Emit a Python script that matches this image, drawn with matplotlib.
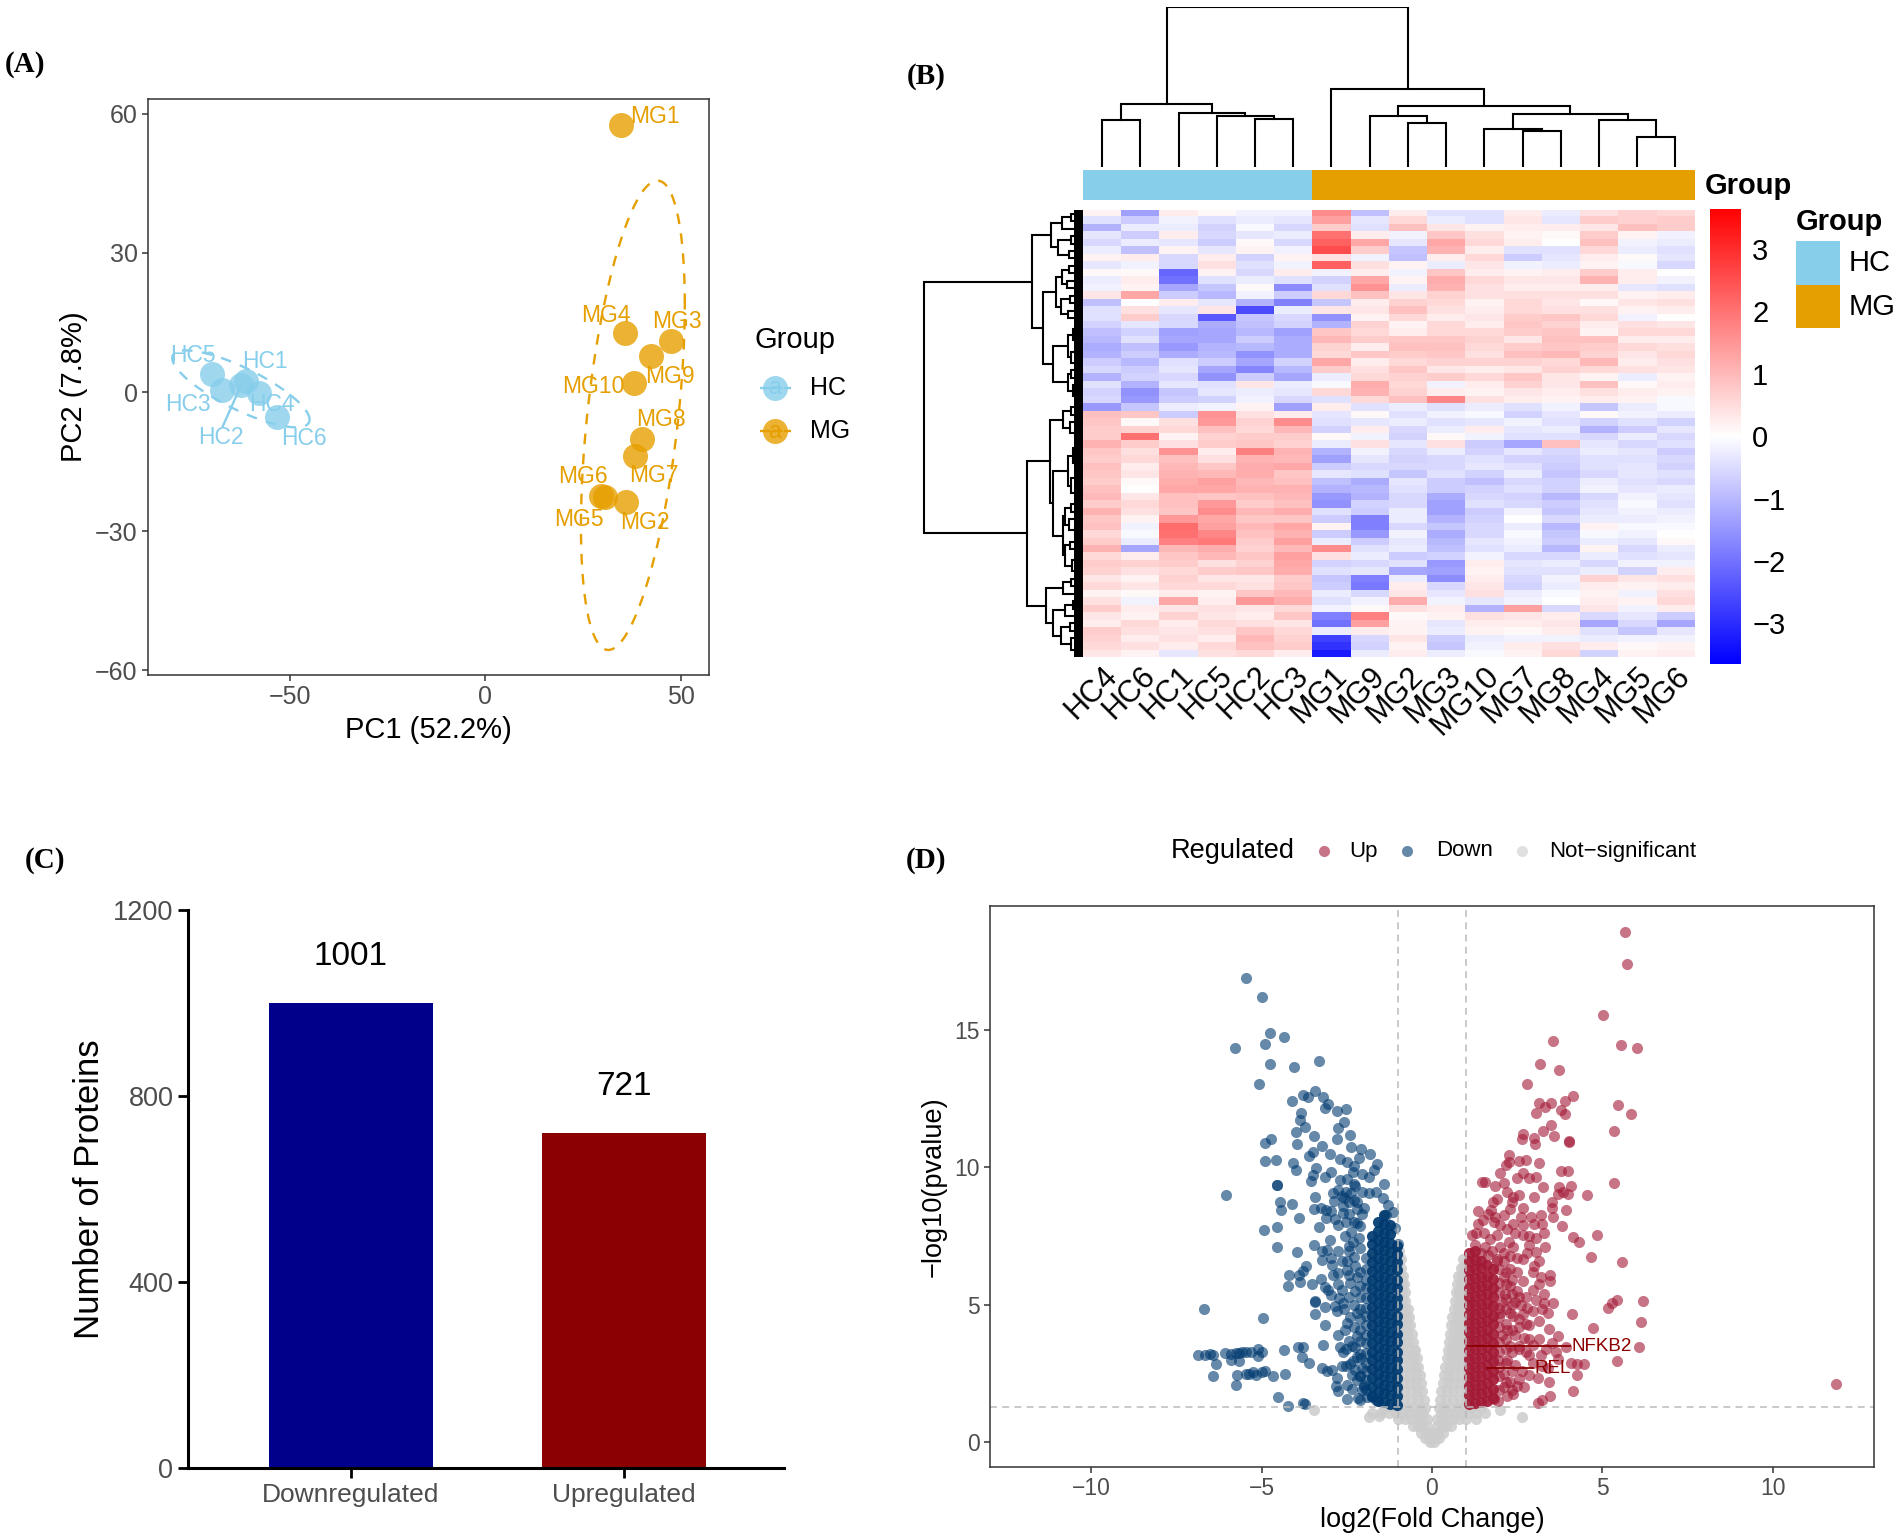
#!/usr/bin/env python3
"""Four panel proteomics figure: PCA, clustered heatmap, DEP counts, volcano."""
import numpy as np
import matplotlib
matplotlib.use("Agg")
import matplotlib.pyplot as plt
from matplotlib.colors import LinearSegmentedColormap
from matplotlib.patches import Rectangle

plt.rcParams["font.family"] = ["Liberation Sans", "DejaVu Sans"]

W, H = 1902, 1539
HC_COL = "#87CEEB"
MG_COL = "#E69F00"
UP_COL = "#A31A36"
DOWN_COL = "#003A70"
TICK_COL = "#4D4D4D"
FRAME_COL = "#333333"

# ---- panel A: PCA scores
hc_names = ["HC1", "HC2", "HC3", "HC4", "HC5", "HC6"]
hc_pc1 = [-61.4, -62.5, -67.5, -57.9, -70.1, -53.4]
hc_pc2 = [2.4, 1.6, 0.5, -0.2, 3.8, -5.4]
hc_label_x = [-56.5, -67.8, -76.1, -54.7, -74.9, -46.4]
hc_label_y = [6.7, -9.8, -2.6, -2.7, 7.8, -9.9]
hc2_link_end = (-67.2, -7.3)
mg_names = ["MG1", "MG2", "MG3", "MG4", "MG5", "MG6", "MG7", "MG8", "MG9", "MG10"]
mg_pc1 = [34.8, 36.1, 47.6, 35.9, 30.7, 29.7, 38.4, 40.1, 42.4, 38.2]
mg_pc2 = [57.7, -23.8, 11.0, 12.7, -22.6, -22.3, -13.7, -10.1, 7.8, 1.9]
mg_label_x = [43.5, 40.8, 49.1, 31.0, 24.1, 25.0, 43.2, 45.0, 47.3, 27.6]
mg_label_y = [59.4, -28.1, 15.2, 16.6, -27.4, -18.3, -18.0, -6.0, 3.4, 1.3]
# ellipse summary: centre x, centre y, half range x, half range y, correlation
hc_ellipse = (-62.6, 0.7, 17.6, 8.3, -0.8)
mg_ellipse = (37.8, -5.0, 13.3, 50.6, 0.474)

# ---- panel B: heatmap, row values in tenths of a z-score
col_names = ["HC4", "HC6", "HC1", "HC5", "HC2", "HC3", "MG1", "MG9",
             "MG2", "MG3", "MG10", "MG7", "MG8", "MG4", "MG5", "MG6"]
heat_tenths = [
    [2, -15, 3, 1, -2, -2, 18, -10, 3, -5, -5, 3, -3, 5, 7, 6],
    [-5, -8, -2, -5, -3, -4, 15, -4, 6, -3, -5, 4, -4, 8, 7, 8],
    [-12, -3, -3, -7, -1, -6, 8, -5, 10, 4, 2, 3, 3, 4, 10, 8],
    [-4, -8, 3, -6, -4, -3, 22, 3, -2, 9, 5, 2, 1, 8, 2, -2],
    [-6, -3, -4, -8, 1, -6, 25, 14, -4, 14, 6, 3, 0, 10, -2, -3],
    [-3, -10, 2, -4, 2, -2, 28, 8, -9, 12, 3, -5, -5, 6, -3, -5],
    [2, 3, -6, 3, -7, 2, 5, -2, -10, 3, 6, -8, -4, 3, 1, -4],
    [-4, -2, -6, 5, -5, -2, 25, 5, 2, -3, 4, -2, -3, 2, -1, -6],
    [1, 1, -24, 2, -6, 3, -2, 3, -2, 9, 3, 2, 3, 8, 3, 0],
    [-3, 3, -22, -5, -3, -5, -7, 14, 2, 13, 6, 4, 4, 12, 3, -2],
    [-2, 2, -14, -9, 1, -18, -5, 17, -3, 12, 5, 3, 3, 3, -4, -5],
    [4, 14, -8, -11, -2, -8, 6, 10, 4, 7, 5, 5, 5, 5, 2, 3],
    [-10, 0, 3, -4, -12, -20, -9, 3, 7, 6, 2, 6, 4, 1, 4, 5],
    [-5, 5, -4, 4, -28, -3, 4, 4, 10, 5, 3, 6, 5, 5, 2, 3],
    [-5, 8, -6, -26, -9, -6, -17, 2, 6, 3, 4, 8, 9, 6, -2, 0],
    [-7, -4, -6, -13, -10, -7, -12, 7, 2, 6, 3, 9, 7, 3, 5, 4],
    [-10, -7, -15, -14, -11, -15, 9, 6, 3, 6, 6, 8, 9, 2, 6, 6],
    [-11, -5, -14, -14, -8, -13, 11, 8, 9, 9, 7, 4, 10, 10, 3, 3],
    [-13, -10, -16, -12, -11, -13, 7, 3, 10, 10, 6, 8, 9, 8, 6, 5],
    [-12, -8, -13, -11, -17, -13, 6, 9, 8, 9, 5, 10, 11, 7, 4, 6],
    [-8, -11, -5, -8, -14, -7, 14, 3, 6, 7, 7, 7, 6, 11, 3, 5],
    [-6, -8, -4, -14, -19, -11, 8, 5, 9, 4, 3, 4, 7, 6, 5, 4],
    [-12, -7, -6, -17, -8, -14, -3, 6, 7, 8, 6, 9, 4, 2, -3, 2],
    [-5, -12, -4, -5, 4, -3, -1, 13, 6, -2, 3, 7, 4, 10, 1, 3],
    [-7, -17, -9, -4, -3, -4, 6, 12, 7, 3, 2, 4, 3, 5, 3, 2],
    [-6, -16, -8, -7, -2, -6, -5, 6, 10, 19, 5, 3, 2, 3, 2, -1],
    [-16, -9, -3, -2, 2, -15, 3, -5, -3, -5, -3, -5, -2, -9, -3, -1],
    [10, 9, -8, 17, 5, 3, -4, 1, -5, -2, -1, -7, -4, 1, -2, -3],
    [9, 1, 5, 16, 7, 18, -5, -4, -3, -5, -4, -2, -5, -7, -5, -7],
    [8, 7, 6, 10, 6, 11, -7, 3, -6, -3, 3, -4, -3, -12, -8, -4],
    [8, 22, 2, 7, 8, 8, 1, -2, -7, 1, -2, -5, -5, -6, -3, -6],
    [12, 8, 5, 8, 9, 7, -3, 5, -4, 5, -8, -14, 10, -4, -6, -5],
    [9, 5, 17, 3, 20, 12, -12, -2, -6, -3, -7, -4, -6, -3, -4, -8],
    [8, 6, 10, 5, 12, 11, -15, -4, -7, -6, -5, -7, -7, -5, -5, -6],
    [10, 3, 11, 9, 13, 14, -8, -6, -6, -6, -4, -5, -8, -5, -4, -7],
    [9, 4, 12, 11, 13, 9, -4, -5, -9, -5, -7, -3, -9, -6, -4, -5],
    [8, 1, 13, 15, 11, 10, -10, -13, -4, -8, -10, -6, -7, -3, -5, -6],
    [10, 0, 14, 14, 12, 12, -12, -11, -5, -8, -7, -5, -7, -2, -4, -3],
    [11, 4, 10, 9, 10, 11, -16, -12, -6, -13, -6, -7, -11, -6, -2, -4],
    [8, 6, 10, 16, 8, 10, -17, -7, -6, -15, -5, -6, -8, -5, -1, -5],
    [12, 5, 9, 18, 11, 13, -5, -8, -3, -15, -8, -2, -9, -4, -2, -3],
    [9, 2, 16, 14, 9, 9, -8, -20, -3, -12, -7, 0, -6, -3, -3, -2],
    [10, -2, 23, 15, 11, 14, 2, -20, -6, -9, -6, -3, -11, 2, -1, -1],
    [6, -1, 22, 19, 10, 12, -8, -16, -2, -13, -6, -1, -9, -1, -2, 0],
    [8, -3, 20, 21, 8, 15, -3, -8, -4, -11, -4, -2, -8, -3, -4, 1],
    [12, -14, 11, 13, 7, 11, 18, -5, -3, -10, -5, -3, -11, 2, -6, -3],
    [6, 3, 9, 11, 9, 15, 5, -3, -8, -7, -2, -6, -6, -3, -5, -4],
    [8, 7, 8, 5, 7, 14, -7, -6, -5, -16, 3, -4, -3, -6, -2, -2],
    [7, 5, 6, 8, 9, 13, -5, -4, -14, -15, 2, -5, -5, -3, -7, 3],
    [4, 2, 7, 4, 4, 8, -9, -20, -3, -18, 3, -6, -2, 7, 4, 5],
    [6, 4, 6, 6, 5, 9, -8, -21, 3, -6, 4, -7, -3, 3, 2, 3],
    [2, 1, 3, 2, 9, 11, -3, -6, 4, -4, 5, -3, -1, 2, -2, 5],
    [5, -2, 14, 3, 16, 13, -5, -2, 13, -2, -4, -2, 0, 3, 2, 6],
    [8, 3, 4, 5, 4, 6, -2, 1, 5, 3, -12, 15, -6, 4, -2, 3],
    [4, 2, 7, 4, 3, 9, -20, 20, 1, 2, 5, 4, 3, -6, -4, -8],
    [3, 6, 3, 6, 5, 4, -22, 15, 2, -4, 3, 3, 4, -14, -6, -14],
    [8, 5, 4, 5, 9, 6, -3, 3, 2, -3, 2, 1, 3, -5, -9, -4],
    [7, 3, 5, 3, 11, 7, -30, -6, 4, -8, -3, -2, -2, -3, -2, -2],
    [6, 5, 3, 6, 10, 8, -32, -7, 2, -9, -2, 3, 5, 3, 1, 2],
    [4, 2, -4, 5, 6, 3, -36, -3, 3, -3, -1, 2, 6, -7, 2, 3],
]
col_tree = (160,
            (63.5, (47, 0, 1),
             (54.5, 2, (51.5, 3, (48, 4, 5)))),
            (78, 6,
             (61.5, (51, 7, (44, 8, 9)),
              (53, (38.5, 10, (36, 11, 12)),
               (47, 13, (30.5, 14, 15))))))
row_tree = (159,
            (51,
             (32,
              (21, (12, 0, 1), 2),
              (25, (12, 3, 4), (14, 5, 6))),
             (40,
              (27,
               (21, (14, 7, 8), (16, 9, 10)),
               (22, (13, 11, 12), (15, 13, 14))),
               (30,
                (15, (10, (7, 15, 16), 17), (12, (8, 18, 19), 20)),
                (15, (12, 21, 22), (10, 23, (7, 24, 25)))))),
            (56,
             (33,
              (20, (12, 26, 27), (13, 28, (8, 29, 30))),
              (30,
               (15, (10, (6, 31, 32), (7, 33, 34)), (12, (7, 35, 36), (6, 37, 38))),
               (20,
                (18, (12, 39, 40), (14, 41, (8, 42, 43))),
                (18, (13, 44, 45), (11, (8, 46, 47), 48))))),
             (37,
              (20, (12, 49, 50), 51),
              (30,
               (18, (10, 52, 53), 54),
               (22, (13, 55, 56), (12, 57, (7, 58, 59)))))))

# ---- panel C: counts
bar_names = ["Downregulated", "Upregulated"]
bar_counts = [1001, 721]
bar_colors = ["#00008B", "#8B0000"]

# ---- panel D: volcano, scattered points read one by one
down_x = [-5.45, -5.0, -4.75, -4.34, -4.9, -5.78, -4.75, -4.06, -3.33, -5.07, -3.42, -3.79, -3.63, -3.19,
          -3.06, -4.1, -3.15, -2.78, -2.51, -3.85, -3.87, -2.59, -3.74, -2.75, -3.98, -3.46, -2.79, -2.42,
          -4.71, -4.91, -3.96, -3.24, -3.5, -3.6, -2.38, -2.08, -3.0, -1.81, -4.91, -4.57, -4.07, -3.99,
          -2.71, -2.49, -2.14, -2.28, -1.62, -3.39, -3.48, -3.55, -3.15, -2.97, -2.31, -2.04, -1.7, -1.86,
          -1.42, -2.7, -2.48, -4.55, -4.55, -6.05, -2.75, -2.25, -2.53, -2.38, -2.58, -2.43, -1.84, -1.65,
          -1.45, -1.3, -1.99, -2.19, -3.42, -2.89, -4.46, -4.11, -4.43, -3.45, -3.26, -3.1, -2.97, -3.9,
          -2.6, -2.85, -2.51, -1.15, -1.35, -4.93, -4.56, -3.33, -2.38, -2.19, -2.33, -2.14, -1.1, -4.56,
          -3.46, -3.95, -3.22, -3.07, -2.77, -2.43, -3.22, -2.92, -2.77, -2.48, -1.0, -3.69, -4.21, -3.9,
          -3.78, -4.22, -3.87, -3.51, -3.26, -3.14, -2.75, -2.43, -2.95, -3.43, -3.43, -3.15, -3.43, -2.73,
          -2.58, -2.8, -2.48, -6.69, -4.95, -3.14, -2.77, -3.92, -3.78, -3.21, -2.71, -2.35, -6.88, -6.65,
          -6.5, -6.43, -6.08, -5.91, -5.76, -5.67, -5.57, -5.47, -5.32, -5.1, -4.98, -5.1, -4.35, -6.35,
          -5.91, -5.67, -3.81, -3.6, -6.42, -5.72, -5.75, -5.47, -5.37, -5.25, -5.16, -5.0, -4.91, -4.67,
          -4.31, -4.53, -4.24, -3.8, -3.74, -3.23, -3.09, -2.92, -2.79, -2.81, -2.77, -2.63, -2.53, -2.48,
          -2.35, -2.5, -2.16, -2.12, -2.25, -2.19, -1.99, -2.09, -2.33, -2.53, -1.75, -1.65,
          -2.3, -2.6, -2.2, -2.45, -2.3, -2.05, -2.1, -2.55, -2.45, -2.65, -2.3, -2.1, -2.25, -2.5, -2.2, -2.4,
          -2.65, -2.25, -2.45, -2.3, -2.6, -2.2, -2.4, -2.3, -2.55, -2.2, -2.45, -2.25, -2.6, -2.2, -2.05, -2.4,
          -2.1, -2.35, -2.05, -1.9, -2.0, -2.9, -3.05, -2.85, -3.0, -2.95, -2.65, -2.9, -3.1, -2.75, -2.3, -2.05]
down_y = [16.9, 16.2, 14.87, 14.73, 14.5, 14.35, 13.75, 13.65, 13.87, 13.04, 12.78, 12.61, 12.57, 12.57,
          12.3, 12.42, 12.16, 12.04, 12.13, 11.96, 11.73, 11.63, 11.47, 11.41, 11.27, 11.12, 11.04, 11.18,
          11.04, 10.88, 10.83, 10.76, 10.55, 10.41, 10.72, 10.67, 10.47, 10.48, 10.23, 10.25, 10.17, 9.89,
          10.31, 10.19, 10.34, 10.05, 10.12, 9.98, 9.73, 9.51, 9.64, 9.83, 9.81, 9.75, 9.89, 9.65,
          9.39, 9.55, 9.59, 9.36, 9.36, 8.99, 9.18, 9.33, 9.11, 9.05, 8.87, 8.75, 9.05, 9.11,
          8.87, 8.63, 8.51, 8.75, 8.92, 8.78, 8.72, 8.66, 8.43, 8.48, 8.51, 8.45, 8.42, 8.17,
          8.32, 8.11, 8.02, 8.39, 8.27, 7.71, 7.83, 7.84, 7.66, 7.96, 7.3, 7.42, 7.78, 7.1,
          7.18, 6.93, 6.94, 7.0, 6.96, 6.94, 6.64, 6.46, 6.16, 6.58, 7.2, 6.42, 6.07, 6.1,
          6.22, 5.7, 5.83, 5.76, 5.92, 5.65, 5.76, 6.1, 5.34, 5.1, 5.12, 4.92, 4.67, 5.25,
          4.83, 4.77, 4.35, 4.84, 4.52, 4.27, 3.9, 3.48, 3.46, 3.53, 3.48, 3.5, 3.18, 3.17,
          3.2, 3.18, 3.23, 3.2, 3.26, 3.26, 3.29, 3.29, 3.3, 3.39, 3.3, 3.14, 3.34, 2.84,
          3.0, 2.96, 3.1, 2.88, 2.42, 2.46, 2.1, 2.5, 2.5, 2.54, 2.46, 2.54, 2.58, 2.42,
          2.5, 1.66, 1.33, 1.42, 1.4, 2.7, 2.6, 2.63, 2.34, 2.06, 1.86, 2.78, 2.78, 2.1,
          1.94, 1.58, 1.61, 1.52, 2.63, 2.28, 2.02, 3.08, 2.96, 3.39, 1.64, 1.52,
          8.8, 8.6, 8.5, 8.3, 8.0, 8.3, 7.85, 7.5, 7.15, 6.6, 6.75, 7.05, 6.4, 6.25, 6.0, 5.8,
          5.55, 5.5, 5.3, 5.0, 5.05, 4.7, 4.55, 4.2, 4.1, 3.85, 3.7, 3.45, 3.3, 3.1, 2.7, 2.85,
          2.4, 2.45, 1.9, 1.65, 2.1, 6.1, 5.55, 4.95, 7.35, 6.7, 8.95, 9.05, 8.15, 7.9, 9.4, 9.1]
# dense part next to the cut-off, one y list per x column
down_block_x = [-1.04, -1.22, -1.4, -1.58, -1.76, -1.94, -2.12]
down_block_y = [
    [1.35, 1.7, 2.0, 2.35, 2.65, 3.0, 3.3, 3.65, 3.95, 4.3, 4.6, 4.95, 5.25, 5.6, 5.9, 6.25, 6.55, 6.85, 7.15],
    [1.4, 1.72, 2.05, 2.38, 2.7, 3.02, 3.35, 3.68, 4.0, 4.32, 4.65, 4.98, 5.3, 5.62, 5.95, 6.28, 6.6, 6.92, 7.25, 7.58, 7.9],
    [1.45, 1.78, 2.1, 2.42, 2.75, 3.08, 3.4, 3.72, 4.05, 4.38, 4.7, 5.02, 5.35, 5.68, 6.0, 6.32, 6.65, 6.98, 7.3, 7.62, 7.95, 8.25],
    [1.5, 1.82, 2.15, 2.48, 2.8, 3.12, 3.45, 3.78, 4.1, 4.42, 4.75, 5.08, 5.4, 5.72, 6.05, 6.38, 6.7, 7.02, 7.35, 7.68, 8.0],
    [1.7, 2.0, 2.32, 2.65, 2.98, 3.3, 3.62, 3.95, 4.28, 4.6, 4.92, 5.25, 5.58, 5.9, 6.22, 6.55, 6.88, 7.2, 7.5],
    [1.9, 2.25, 2.6, 2.9, 3.25, 3.6, 3.9, 4.25, 4.6, 4.9, 5.25, 5.6, 5.9, 6.3, 6.7],
    [2.4, 3.2, 3.7, 4.1, 4.5, 4.85, 5.3, 5.7, 6.2],
]
up_x = [5.67, 5.71, 5.03, 3.55, 5.56, 6.03, 3.17, 3.72, 2.8, 4.15, 3.14, 3.49, 3.89, 5.46, 5.84, 3.32, 3.06,
        3.79, 3.91, 3.49, 3.25, 5.33, 2.67, 2.65, 3.0, 3.02, 3.59, 4.02, 4.02, 2.27, 2.25, 2.76, 2.54, 3.14,
        2.16, 3.79, 3.98, 1.99, 2.48, 2.67, 3.04, 1.46, 1.56, 1.86, 5.33, 2.1, 3.74, 4.08, 3.85, 3.98, 3.7,
        4.54, 2.99, 2.38, 1.92, 3.51, 3.51, 2.35, 2.67, 3.92, 1.35, 1.73, 2.1, 3.19, 3.55, 3.81, 2.99, 3.23,
        2.67, 2.38, 1.35, 1.82, 2.2, 4.83, 4.15, 4.32, 1.16, 1.54, 1.92, 2.67, 3.04, 3.32, 2.85, 1.26, 2.38,
        2.01, 3.04, 4.66, 5.58, 3.14, 2.67, 2.29, 1.92, 3.47, 3.47, 2.95, 2.48, 2.67, 2.95, 3.14, 5.43, 5.28,
        5.16, 6.2, 3.55, 3.29, 3.04, 4.11, 6.14, 2.95, 3.23, 2.67, 2.38, 4.71, 3.42, 3.7, 2.85, 6.07, 3.92,
        3.14, 2.85, 3.51, 5.43, 4.26, 4.45, 4.08, 3.19, 2.85, 3.7, 3.23, 4.26, 3.44, 4.15, 3.47, 3.23, 3.1,
        2.38, 1.82, 2.1, 2.85, 11.85,
        1.3, 1.5, 1.65, 1.85, 2.0, 1.7, 1.55, 1.75, 1.45, 1.65, 1.9, 2.1, 2.3, 2.5, 2.1, 2.3, 2.5, 2.75, 2.6,
        2.15, 2.45, 2.8, 2.3, 2.55, 2.75, 2.2, 2.45, 2.7, 2.3, 2.55, 2.75, 2.2, 2.45, 2.65, 2.1, 2.3, 2.5, 2.2,
        2.7, 1.95, 2.05, 1.95, 2.0, 2.05, 2.1, 2.25, 2.45, 2.6, 2.85, 3.0, 3.2, 3.3, 3.4, 3.15, 3.35, 2.95,
        2.95, 3.1, 3.4, 3.65, 2.8, 2.9, 3.3, 2.3, 2.55, 3.25, 2.85, 1.8, 2.2]
up_y = [18.55, 17.38, 15.52, 14.58, 14.43, 14.33, 13.77, 13.52, 13.03, 12.6, 12.35, 12.32, 12.4, 12.28, 11.93, 12.18, 11.98,
        12.07, 11.92, 11.53, 11.32, 11.33, 11.2, 11.02, 11.07, 10.85, 11.13, 10.95, 10.92, 10.43, 10.18, 10.27, 10.23, 10.15,
        10.07, 9.85, 9.88, 9.8, 9.6, 9.8, 9.63, 9.47, 9.47, 9.32, 9.43, 9.43, 9.3, 9.33, 9.1, 9.02, 9.02,
        9.0, 8.93, 8.93, 8.85, 8.72, 8.52, 8.73, 8.52, 8.43, 8.4, 8.43, 8.27, 8.27, 8.18, 7.85, 7.93, 7.93,
        7.9, 7.93, 7.93, 8.02, 7.77, 7.55, 7.47, 7.28, 7.52, 7.6, 7.52, 7.52, 7.43, 7.1, 7.18, 7.18, 7.1,
        7.1, 6.93, 6.75, 6.57, 6.6, 6.68, 6.77, 6.68, 6.07, 5.85, 6.18, 6.18, 5.85, 5.52, 5.77, 5.18, 5.05,
        4.88, 5.15, 5.07, 5.07, 5.18, 4.68, 4.38, 4.77, 4.85, 4.68, 4.6, 4.15, 4.13, 3.85, 4.27, 3.45, 3.45,
        3.77, 3.77, 3.6, 2.97, 2.85, 2.85, 2.88, 3.18, 3.18, 3.02, 2.77, 2.43, 2.18, 1.87, 1.67, 1.55, 1.43,
        1.77, 1.57, 2.02, 2.43, 2.12,
        7.6, 8.1, 8.3, 8.2, 7.9, 7.4, 7.1, 6.95, 6.9, 6.8, 6.6, 6.6, 6.3, 6.7, 6.0, 5.7, 5.5, 5.3, 5.0,
        5.4, 5.1, 4.9, 4.7, 4.5, 4.3, 4.1, 3.9, 3.8, 3.5, 3.4, 3.3, 3.0, 2.8, 2.6, 2.5, 2.2, 2.05, 1.7,
        2.0, 1.5, 3.9, 3.0, 4.7, 5.1, 6.9, 7.3, 7.6, 8.2, 7.5, 6.4, 6.0, 5.4, 4.7, 4.4, 3.4, 3.55,
        2.9, 2.35, 2.7, 3.3, 6.9, 8.2, 7.6, 8.5, 9.0, 9.3, 9.6, 8.75, 9.1]
up_block_x = [1.08, 1.26, 1.44, 1.62, 1.8, 1.98, 2.16, 2.36, 2.56]
up_block_y = [
    [1.4, 1.72, 2.05, 2.38, 2.7, 3.02, 3.35, 3.68, 4.0, 4.32, 4.65, 4.98, 5.3, 5.62, 5.95, 6.28, 6.6, 6.9],
    [1.42, 1.75, 2.08, 2.4, 2.72, 3.05, 3.38, 3.7, 4.02, 4.35, 4.68, 5.0, 5.32, 5.65, 5.98, 6.3, 6.62, 6.95],
    [1.45, 1.78, 2.1, 2.42, 2.75, 3.08, 3.4, 3.72, 4.05, 4.38, 4.7, 5.02, 5.35, 5.68, 6.0, 6.32, 6.6],
    [1.5, 1.82, 2.15, 2.48, 2.8, 3.12, 3.45, 3.78, 4.1, 4.42, 4.75, 5.08, 5.4, 5.72, 6.05, 6.45],
    [1.6, 1.95, 2.3, 2.6, 2.95, 3.3, 3.6, 3.95, 4.3, 4.6, 4.95, 5.3, 5.6, 5.95, 6.3],
    [1.9, 2.4, 2.75, 3.3, 3.65, 4.2, 4.55, 4.9, 5.45, 5.8, 6.3],
    [2.2, 2.9, 3.4, 3.75, 4.3, 4.85, 5.2, 5.75, 6.2],
    [1.9, 2.6, 3.3, 4.1, 5.0, 5.4, 5.9],
    [2.3, 3.5, 4.2, 5.3],
]
# not significant, one x list per y level
grey_levels = [0.0, 0.15, 0.35, 0.6, 0.85, 1.05, 1.25, 1.55, 1.85, 2.15, 2.45, 2.75, 3.05, 3.35, 3.65,
               3.95, 4.25, 4.55, 4.85, 5.15, 5.45, 5.75, 6.05, 6.35, 6.65, 6.95]
grey_x_by_level = [
    [-0.05, 0.05],
    [-0.2, -0.08, 0.08, 0.2],
    [-0.32, -0.18, -0.05, 0.05, 0.18, 0.32],
    [-0.55, -0.42, -0.28, -0.14, 0.14, 0.28, 0.42, 0.55],
    [-1.0, -0.8, -0.62, -0.45, -0.3, -0.16, 0.16, 0.3, 0.45, 0.62, 0.8, 1.0, 1.3],
    [-1.75, -1.5, -1.25, -1.05, -0.85, -0.65, -0.45, -0.25, 0.25, 0.45, 0.65, 0.85, 1.05, 1.3, 1.55],
    [-1.4, -1.15, -0.95, -0.75, -0.55, -0.35, -0.2, 0.2, 0.35, 0.55, 0.75, 0.95, 1.15, 1.45],
    [-1.0, -0.82, -0.62, -0.42, -0.24, 0.24, 0.42, 0.62, 0.82, 1.0],
    [-1.0, -0.82, -0.62, -0.44, -0.28, 0.27, 0.44, 0.62, 0.82, 1.0],
    [-1.0, -0.82, -0.64, -0.46, -0.32, 0.31, 0.46, 0.64, 0.82, 1.0],
    [-1.0, -0.82, -0.64, -0.48, -0.36, 0.35, 0.5, 0.66, 0.84, 1.0],
    [-1.0, -0.83, -0.66, -0.5, -0.41, 0.39, 0.54, 0.68, 0.84, 1.0],
    [-1.0, -0.83, -0.67, -0.52, -0.45, 0.43, 0.56, 0.7, 0.85, 1.0],
    [-1.0, -0.84, -0.68, -0.54, -0.49, 0.47, 0.6, 0.74, 0.88, 1.0],
    [-1.0, -0.85, -0.7, -0.56, 0.5, 0.63, 0.76, 0.9, 1.02],
    [-1.0, -0.86, -0.72, -0.6, 0.54, 0.66, 0.78, 0.9, 1.02],
    [-1.0, -0.87, -0.74, -0.64, 0.57, 0.68, 0.8, 0.92, 1.02],
    [-1.0, -0.88, -0.76, -0.68, 0.6, 0.72, 0.84, 0.95],
    [-1.0, -0.89, -0.78, -0.71, 0.64, 0.75, 0.86, 0.97],
    [-0.98, -0.88, -0.78, 0.68, 0.78, 0.88, 0.98],
    [-0.98, -0.88, -0.8, 0.7, 0.8, 0.9, 1.0],
    [-0.98, -0.88, -0.82, 0.73, 0.84, 0.95],
    [-1.0, -0.92, -0.85, 0.76, 0.88, 0.96],
    [-1.0, -0.9, 0.85, 0.94],
    [-0.98, -0.9, 0.92],
    [-0.96],
]
grey_out_x = [-3.47, 2.63, 2.0, -1.84, -1.56]
grey_out_y = [1.17, 0.93, 1.18, 0.93, 0.97]
gene_names = ["NFKB2", "REL"]
gene_x = [1.07, 1.6]
gene_y = [3.5, 2.7]
gene_label_x = [4.1, 3.0]
cut_fc = 1
cut_p = 1.3


def ax_px(left, top, right, bottom, **kw):
    """axes placed by pixel box, y counted from the top of the figure"""
    return fig.add_axes([left / W, 1 - bottom / H, (right - left) / W, (bottom - top) / H], **kw)


def draw_tree(ax, node, horizontal=False):
    """draw a nested (height, left, right) tree, returns leaf position and height"""
    if not isinstance(node, tuple):
        return node + 0.5, 0
    h, a, b = node
    pa, ha = draw_tree(ax, a, horizontal)
    pb, hb = draw_tree(ax, b, horizontal)
    xs = [pa, pa, pb, pb]
    ys = [ha, h, h, hb]
    if horizontal:
        ax.plot(ys, xs, color="black", lw=1.5, solid_joinstyle="miter")
    else:
        ax.plot(xs, ys, color="black", lw=1.5, solid_joinstyle="miter")
    return (pa + pb) / 2, h


def ellipse_xy(params):
    cx, cy, sx, sy, rho = params
    t = np.linspace(0, 2 * np.pi, 200)
    return cx + sx * np.cos(t), cy + sy * np.cos(t - np.arccos(rho))


def style_frame(ax, size):
    for s in ax.spines.values():
        s.set_color(FRAME_COL)
        s.set_linewidth(1.1)
    ax.tick_params(colors=FRAME_COL, labelcolor=TICK_COL, labelsize=size, width=1.1, length=4)


fig = plt.figure(figsize=(W / 100, H / 100), dpi=100)

# ---- (A) PCA
ax_a = ax_px(148, 99, 709, 675)
ax_a.set_xlim(-86.4, 57.3)
ax_a.set_ylim(-61.0, 63.2)
style_frame(ax_a, 18)
for params, col in [(hc_ellipse, HC_COL), (mg_ellipse, MG_COL)]:
    ex, ey = ellipse_xy(params)
    ax_a.plot(ex, ey, color=col, lw=1.7, ls=(0, (4.5, 4)))
ax_a.scatter(hc_pc1, hc_pc2, s=324, color=HC_COL, alpha=0.8, linewidths=0)
ax_a.scatter(mg_pc1, mg_pc2, s=324, color=MG_COL, alpha=0.8, linewidths=0)
for n, x, y in zip(hc_names, hc_label_x, hc_label_y):
    ax_a.text(x, y, n, color=HC_COL, fontsize=16.5, ha="center", va="center")
for n, x, y in zip(mg_names, mg_label_x, mg_label_y):
    ax_a.text(x, y, n, color=MG_COL, fontsize=16.5, ha="center", va="center")
ax_a.plot([hc_pc1[1], hc2_link_end[0]], [hc_pc2[1], hc2_link_end[1]], color=HC_COL, lw=1.7)
ax_a.set_xticks([-50, 0, 50])
ax_a.set_yticks([-60, -30, 0, 30, 60])
ax_a.set_xlabel("PC1 (52.2%)", fontsize=21, labelpad=5)
ax_a.set_ylabel("PC2 (7.8%)", fontsize=21, labelpad=5)

# ---- (B) heatmap with dendrograms
heat = np.array(heat_tenths) / 11
bwr = LinearSegmentedColormap.from_list("bwr3", ["#0000FF", "#FFFFFF", "#FF0000"])
ax_h = ax_px(1083, 210, 1694.5, 657)
ax_h.imshow(heat, aspect="auto", cmap=bwr, vmin=-3.65, vmax=3.65, interpolation="nearest",
            extent=[0, heat.shape[1], heat.shape[0], 0])
for s in ax_h.spines.values():
    s.set_visible(False)
ax_h.set_yticks([])
ax_h.set_xticks(np.arange(len(col_names)) + 0.5)
ax_h.set_xticklabels(col_names, rotation=45, ha="right", va="top", rotation_mode="anchor", fontsize=22)
ax_h.tick_params(axis="x", length=0, pad=3)

ax_bar = ax_px(1083, 170, 1694.5, 200)
ax_bar.add_patch(Rectangle((0, 0), 6, 1, color=HC_COL, lw=0))
ax_bar.add_patch(Rectangle((6, 0), 10, 1, color=MG_COL, lw=0))
ax_bar.set_xlim(0, 16)
ax_bar.set_ylim(0, 1)
ax_bar.axis("off")

ax_ct = ax_px(1083, 7, 1694.5, 167)
draw_tree(ax_ct, col_tree)
ax_ct.set_xlim(0, 16)
ax_ct.set_ylim(0, 160)
ax_ct.axis("off")

ax_rt = ax_px(922, 210, 1083, 657)
draw_tree(ax_rt, row_tree, horizontal=True)
ax_rt.add_patch(Rectangle((0, 0), 9, 60, color="black", lw=0))
ax_rt.set_xlim(161, 0)
ax_rt.set_ylim(60, 0)
ax_rt.axis("off")

ax_cb = ax_px(1710, 208.5, 1741, 664)
ax_cb.imshow(np.linspace(3.65, -3.65, 256)[:, None], aspect="auto", cmap=bwr, vmin=-3.65, vmax=3.65,
             extent=[0, 1, -3.65, 3.65])
for s in ax_cb.spines.values():
    s.set_visible(False)
ax_cb.set_xticks([])
ax_cb.yaxis.tick_right()
ax_cb.set_yticks([-3, -2, -1, 0, 1, 2, 3])
ax_cb.tick_params(axis="y", length=0, labelsize=21, pad=8)

# ---- (C) bars
ax_c = ax_px(188, 910, 784, 1468)
ax_c.bar(range(2), bar_counts, width=0.6, color=bar_colors)
ax_c.set_xlim(-0.597, 1.586)
ax_c.set_ylim(0, 1200)
ax_c.set_xticks(range(2))
ax_c.set_xticklabels(bar_names)
ax_c.set_yticks([0, 400, 800, 1200])
ax_c.tick_params(colors="black", labelcolor=TICK_COL, labelsize=19, width=2, length=7)
ax_c.tick_params(axis="y", labelsize=19.5)
ax_c.spines["top"].set_visible(False)
ax_c.spines["right"].set_visible(False)
ax_c.spines["left"].set_linewidth(2.2)
ax_c.spines["bottom"].set_linewidth(2.2)
ax_c.set_ylabel("Number of Proteins", fontsize=25, labelpad=5)
for i, v in enumerate(bar_counts):
    ax_c.text(i, v + 100, str(v), ha="center", va="center", fontsize=24)

# ---- (D) volcano
ax_d = ax_px(990, 906, 1874, 1467)
ax_d.set_xlim(-12.97, 12.97)
ax_d.set_ylim(-0.9, 19.5)
style_frame(ax_d, 16.5)
grey_xs = np.concatenate(grey_x_by_level + [grey_out_x])
grey_ys = np.concatenate([np.full(len(r), y) for r, y in zip(grey_x_by_level, grey_levels)] + [grey_out_y])
ax_d.scatter(grey_xs, grey_ys, s=64, color="#CCCCCC", alpha=0.85, linewidths=0)
# columns nearest the cut-off overlap heavily in the reference, so they read as solid
for cols, ys, col, n_solid in [(down_block_x, down_block_y, DOWN_COL, 5), (up_block_x, up_block_y, UP_COL, 5)]:
    for k, (x, y) in enumerate(zip(cols, ys)):
        ax_d.scatter(np.full(len(y), x), y, s=64, color=col, alpha=0.92 if k < n_solid else 0.6, linewidths=0)
ax_d.scatter(down_x, down_y, s=64, color=DOWN_COL, alpha=0.6, linewidths=0)
ax_d.scatter(up_x, up_y, s=64, color=UP_COL, alpha=0.6, linewidths=0)
for xv in [-cut_fc, cut_fc]:
    ax_d.axvline(xv, color="#BBBBBB", lw=1.1, ls=(0, (4.5, 3.5)))
ax_d.axhline(cut_p, color="#BBBBBB", lw=1.1, ls=(0, (4.5, 3.5)))
for n, x, y, lx in zip(gene_names, gene_x, gene_y, gene_label_x):
    ax_d.plot([x, lx - 0.05], [y, y], color="#8B0000", lw=1.3)
    ax_d.text(lx, y - 0.03, n, color="#8B0000", fontsize=13.5, ha="left", va="center")
ax_d.set_xticks([-10, -5, 0, 5, 10])
ax_d.set_yticks([0, 5, 10, 15])
ax_d.set_xlabel("log2(Fold Change)", fontsize=19.5, labelpad=5)
ax_d.set_ylabel("\u2212log10(pvalue)", fontsize=19.5, labelpad=5)

# ---- overlay in pixel units: panel letters and the hand placed legends
ov = fig.add_axes([0, 0, 1, 1], zorder=10)
ov.set_xlim(0, W)
ov.set_ylim(H, 0)
ov.axis("off")
ov.patch.set_alpha(0)
for s, x, y in [("(A)", 25, 64), ("(B)", 926, 76), ("(C)", 45, 861), ("(D)", 926, 861)]:
    ov.text(x, y, s, family="Liberation Serif", fontweight="bold", fontsize=21, ha="center", va="center")

ov.text(795, 340, "Group", fontsize=21, ha="center", va="center")
for name, col, y in [("HC", HC_COL, 388), ("MG", MG_COL, 431)]:
    ov.plot([760, 791], [y, y], color=col, lw=1.7, ls=(0, (4.5, 0.6)))
    ov.scatter([775], [y], s=324, color=col, alpha=0.8, linewidths=0)
    ov.text(775, y, "a", color=col, fontsize=16.5, ha="center", va="center")
    ov.text(810, y, name, fontsize=18, ha="left", va="center")

ov.text(1748, 186, "Group", fontsize=21, fontweight="bold", ha="center", va="center")
ov.text(1796, 222, "Group", fontsize=21, fontweight="bold", ha="left", va="center")
ov.add_patch(Rectangle((1796, 241), 44, 44, color=HC_COL, lw=0))
ov.add_patch(Rectangle((1796, 285), 44, 43, color=MG_COL, lw=0))
ov.text(1849, 263, "HC", fontsize=21, ha="left", va="center")
ov.text(1849, 307, "MG", fontsize=21, ha="left", va="center")

ov.text(1233, 851, "Regulated", fontsize=19.5, ha="center", va="center")
for name, col, mx, tx in [("Up", UP_COL, 1323.5, 1349), ("Down", DOWN_COL, 1407, 1436),
                          ("Not\u2212significant", "#CCCCCC", 1522, 1549)]:
    ov.scatter([mx], [851], s=64, color=col, alpha=0.6, linewidths=0)
    ov.text(tx, 851, name, fontsize=16, ha="left", va="center")

fig.savefig("out.png", dpi=100, facecolor="white")
